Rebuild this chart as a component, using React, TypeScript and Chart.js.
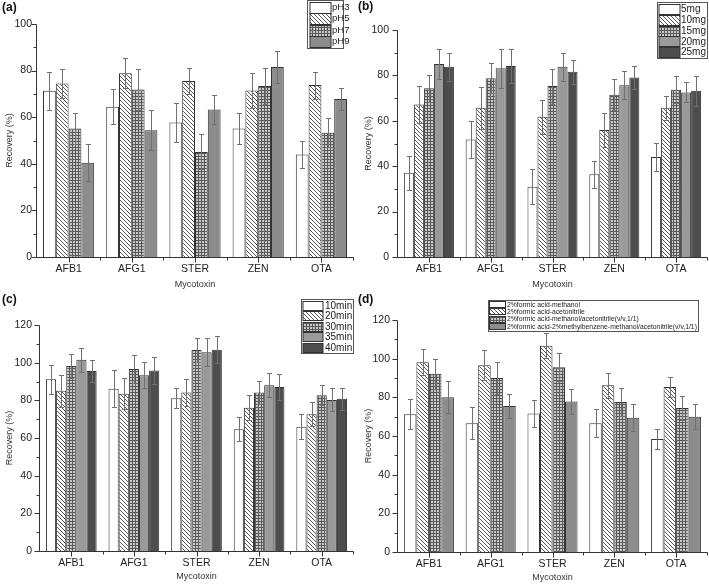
import React, { useEffect, useRef } from 'react';
import { Chart, registerables } from 'chart.js';

Chart.register(...registerables);

const FONT = 'Arial, "Liberation Sans", Helvetica, sans-serif';

// ---------- data ----------
const categories = ['AFB1', 'AFG1', 'STER', 'ZEN', 'OTA'];

// (a) pH
const phNames = ['pH3', 'pH5', 'pH7', 'pH9'];
const pH3 = [71.3, 64.5, 57.7, 55.2, 44.0];
const pH5 = [74.5, 78.9, 75.5, 71.5, 73.8];
const pH7 = [55.2, 71.9, 45.1, 73.4, 53.3];
const pH9 = [40.5, 54.4, 63.3, 81.5, 67.8];
const pH3Err = [8.2, 7.6, 8.3, 6.7, 5.8];
const pH5Err = [6.1, 6.5, 5.7, 7.6, 5.8];
const pH7Err = [6.7, 9.0, 7.5, 7.7, 6.3];
const pH9Err = [7.9, 8.5, 6.2, 6.7, 4.7];

// (b) sorbent amount
const massNames = ['5mg', '10mg', '15mg', '20mg', '25mg'];
const mg5 = [37.1, 51.8, 30.9, 36.5, 44.1];
const mg10 = [67.2, 65.7, 61.8, 55.9, 65.7];
const mg15 = [74.3, 78.7, 75.3, 71.5, 73.7];
const mg20 = [85.0, 83.1, 83.8, 75.7, 72.5];
const mg25 = [83.8, 84.1, 81.6, 79.1, 73.2];
const mg5Err = [7.5, 8.3, 7.7, 6.0, 6.2];
const mg10Err = [8.1, 9.2, 7.4, 7.4, 5.4];
const mg15Err = [6.0, 6.6, 7.7, 6.7, 5.9];
const mg20Err = [6.8, 8.5, 6.2, 6.3, 4.4];
const mg25Err = [6.1, 7.6, 5.2, 5.2, 6.7];

// (c) time
const timeNames = ['10min', '20min', '30min', '35min', '40min'];
const min10 = [91.2, 86.2, 81.1, 64.6, 66.0];
const min20 = [85.1, 83.5, 84.1, 76.1, 72.6];
const min30 = [98.2, 96.6, 106.7, 84.2, 82.7];
const min35 = [101.6, 93.3, 105.5, 88.0, 80.2];
const min40 = [95.6, 95.9, 106.9, 87.1, 80.9];
const min10Err = [7.8, 9.7, 5.3, 6.4, 6.6];
const min20Err = [8.4, 8.2, 7.0, 6.6, 6.3];
const min30Err = [6.5, 7.5, 6.2, 6.3, 5.3];
const min35Err = [6.3, 7.0, 7.5, 6.3, 6.1];
const min40Err = [5.6, 7.2, 7.0, 7.0, 5.9];

// (d) elution solvent
const solventNames = [
  '2%formic acid-methanol',
  '2%formic acid-acetonitrile',
  '2%formic acid-methanol/acetonitrile(v/v,1/1)',
  '2%formic acid-2%methylbenzene-methanol/acetonitrile(v/v,1/1)',
];
const solMeOH = [71.2, 66.6, 71.7, 66.6, 58.4];
const solACN = [98.1, 96.6, 106.7, 86.2, 85.3];
const solMix = [92.2, 90.0, 95.5, 77.6, 74.5];
const solMB = [80.0, 75.5, 77.9, 69.5, 70.0];
const solMeOHErr = [7.7, 8.3, 7.1, 7.2, 5.3];
const solACNErr = [6.7, 7.7, 6.4, 6.4, 5.2];
const solMixErr = [7.7, 8.2, 7.2, 7.2, 6.0];
const solMBErr = [8.2, 6.1, 6.4, 6.9, 6.6];

const yTicksA = [0, 20, 40, 60, 80, 100];
const yTicksC = [0, 20, 40, 60, 80, 100, 120];

// ---------- panel layout / style ----------
type Legend = {
  x: number; y: number; w: number; h: number;
  rowTop: number; rowH: number; swX: number; swW: number; textX: number; font: number;
};
type Panel = {
  id: string; label: string; left: number; top: number; w: number; h: number;
  plot: { l: number; t: number; r: number; b: number };
  yTicks: number[]; yPad: number; yTitlePad: number; xTitlePad: number; labelPos: [number, number];
  names: string[]; values: number[][]; errors: number[][]; fills: string[]; legend: Legend;
};

const panels: Panel[] = [
  {
    id: 'a', label: '(a)', left: 0, top: 0, w: 355, h: 290,
    plot: { l: 37, t: 24, r: 353, b: 257 },
    yTicks: yTicksA, yPad: 5, yTitlePad: 5.5, xTitlePad: 0.5, labelPos: [2, 8],
    names: phNames, values: [pH3, pH5, pH7, pH9], errors: [pH3Err, pH5Err, pH7Err, pH9Err],
    fills: ['white', 'hatch', 'check', '#8c8c8c'],
    legend: { x: 307.5, y: 0.5, w: 36, h: 48, rowTop: 1.5, rowH: 11.5, swX: 310, swW: 21, textX: 332, font: 9.5 },
  },
  {
    id: 'b', label: '(b)', left: 355, top: 0, w: 354, h: 290,
    plot: { l: 43, t: 30, r: 352, b: 257 },
    yTicks: yTicksA, yPad: 9, yTitlePad: 9.5, xTitlePad: 0.5, labelPos: [3, 7],
    names: massNames, values: [mg5, mg10, mg15, mg20, mg25], errors: [mg5Err, mg10Err, mg15Err, mg20Err, mg25Err],
    fills: ['white', 'hatch', 'check', '#9a9a9a', '#4d4d4d'],
    legend: { x: 302.5, y: 2.5, w: 50, h: 56, rowTop: 4, rowH: 10.8, swX: 304, swW: 21, textX: 326, font: 10 },
  },
  {
    id: 'c', label: '(c)', left: 0, top: 290, w: 355, h: 295,
    plot: { l: 40, t: 35, r: 353, b: 261 },
    yTicks: yTicksC, yPad: 8, yTitlePad: 5.5, xTitlePad: 3.5, labelPos: [2, 10],
    names: timeNames, values: [min10, min20, min30, min35, min40], errors: [min10Err, min20Err, min30Err, min35Err, min40Err],
    fills: ['white', 'hatch', 'check', '#9a9a9a', '#4d4d4d'],
    legend: { x: 301.5, y: 9.5, w: 52, h: 54, rowTop: 11, rowH: 10.4, swX: 303, swW: 20, textX: 325, font: 10 },
  },
  {
    id: 'd', label: '(d)', left: 355, top: 290, w: 354, h: 295,
    plot: { l: 43, t: 30, r: 352, b: 262 },
    yTicks: yTicksC, yPad: 8, yTitlePad: 9.5, xTitlePad: 2.5, labelPos: [3, 10],
    names: solventNames, values: [solMeOH, solACN, solMix, solMB], errors: [solMeOHErr, solACNErr, solMixErr, solMBErr],
    fills: ['white', 'hatch', 'check', '#8c8c8c'],
    legend: { x: 133.5, y: 10.5, w: 210, h: 31, rowTop: 11, rowH: 7.4, swX: 134.5, swW: 16, textX: 152, font: 6.8 },
  },
];

function makeFill(key: string): string | CanvasPattern {
  if (key === 'white') return '#ffffff';
  if (key === 'hatch') {
    const s = 4;
    const c = document.createElement('canvas');
    c.width = s; c.height = s;
    const g = c.getContext('2d')!;
    g.fillStyle = '#ffffff';
    g.fillRect(0, 0, s, s);
    g.strokeStyle = '#444444';
    g.lineWidth = 0.9;
    g.beginPath();
    for (const k of [-s, 0, s]) {
      g.moveTo(0, k);
      g.lineTo(s, s + k);
    }
    g.stroke();
    return g.createPattern(c, 'repeat')!;
  }
  if (key === 'check') {
    const c = document.createElement('canvas');
    c.width = 3; c.height = 3;
    const g = c.getContext('2d')!;
    g.fillStyle = '#5a5a5a';
    g.fillRect(0, 0, 3, 3);
    g.fillStyle = '#c8c8c8';
    g.fillRect(1, 1, 2, 2);
    return g.createPattern(c, 'repeat')!;
  }
  return key;
}

function decoPlugin(p: Panel, fills: (string | CanvasPattern)[]) {
  return {
    id: 'deco_' + p.id,
    afterDatasetsDraw(chart: any) {
      const ctx: CanvasRenderingContext2D = chart.ctx;
      const ys = chart.scales.y;
      ctx.save();
      ctx.strokeStyle = '#707070';
      ctx.lineWidth = 1;
      p.values.forEach((vals, i) => {
        const meta = chart.getDatasetMeta(i);
        meta.data.forEach((el: any, j: number) => {
          const v = vals[j];
          const e = p.errors[i][j];
          const x = Math.round(el.x) + 0.5;
          const y1 = Math.round(ys.getPixelForValue(v + e)) + 0.5;
          const y2 = Math.round(ys.getPixelForValue(v - e)) + 0.5;
          ctx.beginPath();
          ctx.moveTo(x, y1); ctx.lineTo(x, y2);
          ctx.moveTo(x - 2.5, y1); ctx.lineTo(x + 2.5, y1);
          ctx.moveTo(x - 2.5, y2); ctx.lineTo(x + 2.5, y2);
          ctx.stroke();
        });
      });
      ctx.restore();
    },
    afterDraw(chart: any) {
      const ctx: CanvasRenderingContext2D = chart.ctx;
      const area = chart.chartArea;
      const xs = chart.scales.x;
      const ys = chart.scales.y;
      const L = Math.round(area.left) - 0.5;
      const B = Math.round(area.bottom) + 0.5;
      ctx.save();
      ctx.strokeStyle = '#333333';
      ctx.lineWidth = 1;
      ctx.beginPath();
      // axes
      ctx.moveTo(L, Math.round(area.top) + 0.5); ctx.lineTo(L, B);
      ctx.moveTo(L, B); ctx.lineTo(Math.round(area.right) + 0.5, B);
      // y ticks
      const tv = p.yTicks;
      tv.forEach((v, i) => {
        const py = Math.round(ys.getPixelForValue(v)) + 0.5;
        ctx.moveTo(L - 5, py); ctx.lineTo(L, py);
        if (i < tv.length - 1) {
          const pm = Math.round(ys.getPixelForValue((v + tv[i + 1]) / 2)) + 0.5;
          ctx.moveTo(L - 3, pm); ctx.lineTo(L, pm);
        }
      });
      // x ticks
      categories.forEach((_, i) => {
        const px = Math.round(xs.getPixelForValue(i)) + 0.5;
        ctx.moveTo(px, B); ctx.lineTo(px, B + 5);
        const pb = Math.round(xs.getPixelForValue(i + 0.5)) + 0.5;
        ctx.moveTo(pb, B); ctx.lineTo(pb, B + 3);
      });
      ctx.stroke();

      // legend
      const lg = p.legend;
      ctx.fillStyle = '#ffffff';
      ctx.fillRect(lg.x, lg.y, lg.w, lg.h);
      ctx.strokeStyle = '#555555';
      ctx.strokeRect(lg.x, lg.y, lg.w, lg.h);
      ctx.font = `${lg.font}px ${FONT}`;
      ctx.textAlign = 'left';
      ctx.textBaseline = 'middle';
      p.names.forEach((name, i) => {
        const ry = Math.round(lg.rowTop + i * lg.rowH) + 0.5;
        const rh = Math.round(lg.rowH) - 1;
        ctx.fillStyle = fills[i] as any;
        ctx.fillRect(lg.swX, ry, lg.swW, rh);
        ctx.strokeStyle = '#333333';
        ctx.strokeRect(lg.swX, ry, lg.swW, rh);
        ctx.fillStyle = '#222222';
        ctx.fillText(name, lg.textX, lg.rowTop + i * lg.rowH + lg.rowH / 2);
      });

      // panel label
      ctx.font = `bold 12px ${FONT}`;
      ctx.fillStyle = '#111111';
      ctx.textAlign = 'left';
      ctx.textBaseline = 'middle';
      ctx.fillText(p.label, p.labelPos[0], p.labelPos[1]);
      ctx.restore();
    },
  };
}

function buildChart(canvas: HTMLCanvasElement, p: Panel) {
  const fills = p.fills.map(makeFill);
  const yMax = p.yTicks[p.yTicks.length - 1];
  return new Chart(canvas, {
    type: 'bar',
    data: {
      labels: categories,
      datasets: p.values.map((vals, i) => ({
        label: p.names[i],
        data: vals,
        backgroundColor: fills[i] as any,
        borderColor: '#333333',
        borderWidth: 1,
        categoryPercentage: 0.81,
        barPercentage: 1.0,
      })),
    },
    options: {
      responsive: false,
      animation: false,
      devicePixelRatio: 1,
      events: [],
      layout: { padding: { left: 0, top: p.plot.t, right: p.w - p.plot.r, bottom: 0 } },
      plugins: { legend: { display: false }, tooltip: { enabled: false } },
      scales: {
        x: {
          type: 'category',
          offset: true,
          grid: { display: false, drawTicks: false },
          border: { display: false },
          ticks: { font: { family: FONT, size: 10.5 }, color: '#222222', padding: 6, maxRotation: 0, autoSkip: false },
          title: {
            display: true, text: 'Mycotoxin', color: '#333333',
            font: { family: FONT, size: 9, lineHeight: 1 },
            padding: { top: 0, bottom: p.xTitlePad },
          },
          afterFit: (scale: any) => { scale.height = p.h - p.plot.b; },
        },
        y: {
          type: 'linear',
          min: 0,
          max: yMax,
          grid: { display: false, drawTicks: false },
          border: { display: false },
          ticks: { stepSize: 20, font: { family: FONT, size: 10.5 }, color: '#222222', padding: p.yPad },
          title: {
            display: true, text: 'Recovery (%)', color: '#333333',
            font: { family: FONT, size: 9, lineHeight: 1 },
            padding: { top: p.yTitlePad, bottom: 0 },
          },
          afterFit: (scale: any) => { scale.width = p.plot.l; },
        },
      },
    },
    plugins: [decoPlugin(p, fills)],
  } as any);
}

function PanelChart({ p }: { p: Panel }) {
  const ref = useRef<HTMLCanvasElement | null>(null);
  useEffect(() => {
    if (!ref.current) return;
    const chart = buildChart(ref.current, p);
    return () => chart.destroy();
  }, [p]);
  return (
    <div style={{ position: 'absolute', left: p.left, top: p.top, width: p.w, height: p.h }}>
      <canvas ref={ref} width={p.w} height={p.h} style={{ display: 'block', width: p.w, height: p.h }} />
    </div>
  );
}

export default function App() {
  return (
    <div style={{ position: 'absolute', left: 0, top: 0, width: 709, height: 585, background: '#ffffff', overflow: 'hidden' }}>
      {panels.map((p) => (
        <PanelChart key={p.id} p={p} />
      ))}
    </div>
  );
}
